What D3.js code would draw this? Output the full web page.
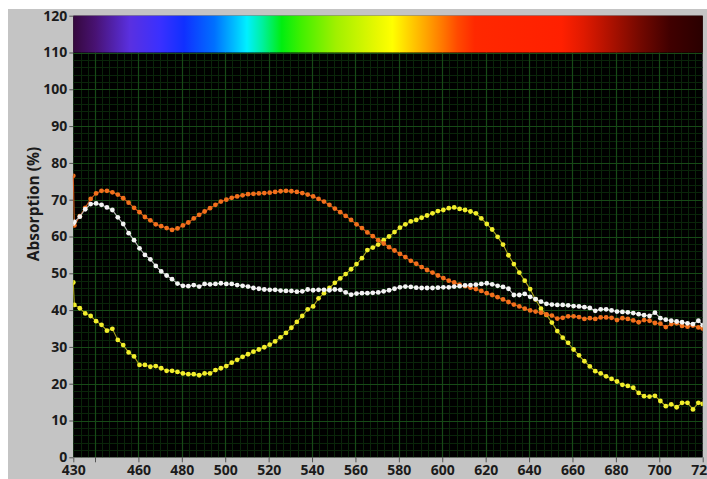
<!DOCTYPE html>
<html>
<head>
<meta charset="utf-8">
<script src="https://cdn.jsdelivr.net/npm/d3@7"></script>
<style>
  html, body { margin: 0; padding: 0; background: #ffffff; }
  svg { display: block; }
  .tick text { font-family: "Open Sans", "DejaVu Sans", sans-serif; font-weight: 700; font-size: 14px; fill: #1b1b1b; }
</style>
</head>
<body>
<svg id="chart" width="707" height="479"></svg>
<script>
// Sampled wavelengths (nm) shared by all three spectra
const wavelengths = [
  430, 430.5, 433, 435.5, 438, 440.5, 443, 445.5, 448, 450.5,
  453, 455.5, 458, 460.5, 463, 465.5, 468, 470.5, 473, 475.5,
  478, 480.5, 483, 485.5, 488, 490.5, 493, 495.5, 498, 500.5,
  503, 505.5, 508, 510.5, 513, 515.5, 518, 520.5, 523, 525.5,
  528, 530.5, 533, 535.5, 538, 540.5, 543, 545.5, 548, 550.5,
  553, 555.5, 558, 560.5, 563, 565.5, 568, 570.5, 573, 575.5,
  578, 580.5, 583, 585.5, 588, 590.5, 593, 595.5, 598, 600.5,
  603, 605.5, 608, 610.5, 613, 615.5, 618, 620.5, 623, 625.5,
  628, 630.5, 633, 635.5, 638, 640.5, 643, 645.5, 648, 650.5,
  653, 655.5, 658, 660.5, 663, 665.5, 668, 670.5, 673, 675.5,
  678, 680.5, 683, 685.5, 688, 690.5, 693, 695.5, 698, 700.5,
  703, 705.5, 708, 710.5, 713, 715.5, 718, 720
];

// Absorption (%) of the orange sample
const orangeSeries = [
  76.5, 63, 65.5, 67.8, 70.2, 71.7, 72.4, 72.4, 72, 71.4,
  70.4, 69.2, 67.8, 66.6, 65.3, 64.4, 63.3, 62.8, 62.3, 61.8,
  62.2, 63, 63.8, 64.9, 65.9, 66.8, 67.7, 68.6, 69.5, 70,
  70.5, 70.9, 71.2, 71.5, 71.6, 71.7, 71.8, 71.9, 72.1, 72.3,
  72.4, 72.3, 72.1, 71.8, 71.4, 70.9, 70.2, 69.5, 68.6, 67.6,
  66.6, 65.6, 64.5, 63.3, 62.3, 61.1, 60.1, 59, 58.1, 57.1,
  56.2, 55.3, 54.4, 53.4, 52.6, 51.7, 50.9, 50.2, 49.4, 48.7,
  48, 47.5, 46.9, 46.5, 46.1, 45.7, 45.2, 44.6, 44.1, 43.5,
  42.9, 42.2, 41.5, 41, 40.4, 39.9, 39.6, 39.3, 38.8, 38.5,
  37.7, 37.9, 38.3, 38.3, 38.1, 37.6, 37.8, 37.6, 38, 38,
  37.9, 37.3, 37.8, 37.6, 37.2, 36.7, 37.3, 37.1, 36.5, 36.3,
  35.4, 36.2, 36.4, 35.7, 35.5, 35.8, 35.3, 35
];

// Absorption (%) of the white sample
const whiteSeries = [
  63.5, 64, 65.4, 67.4, 68.8, 69, 68.6, 67.9, 67.2, 65.2,
  63.4, 60.9, 59, 56.8, 55, 53.8, 52, 50.5, 49.4, 48.4,
  47.2, 46.6, 46.5, 46.8, 46.4, 47.1, 47, 47.1, 47.3, 47.1,
  47.1, 46.8, 46.6, 46.4, 46, 45.8, 45.6, 45.5, 45.5, 45.3,
  45.2, 45.2, 45, 45.1, 45.6, 45.4, 45.5, 45.5, 45.4, 45.6,
  45.5, 44.8, 44.2, 44.5, 44.6, 44.6, 44.7, 44.8, 45.1, 45.4,
  45.8, 46.2, 46.4, 46.3, 46.1, 46, 46, 46, 46.1, 46.2,
  46.2, 46.4, 46.5, 46.7, 46.8, 46.9, 47.1, 47.3, 47, 46.6,
  46.3, 45.8, 44.1, 44.1, 44.4, 43.6, 43, 42.3, 41.7, 41.5,
  41.4, 41.4, 41.3, 41.1, 41, 40.8, 40.6, 39.8, 40.2, 40.2,
  39.9, 39.6, 39.5, 39.4, 39.2, 38.9, 38.6, 38.4, 39.3, 37.8,
  37.4, 37.1, 36.9, 36.7, 36.4, 36.2, 37.1, 35.9
];

// Absorption (%) of the yellow sample
const yellowSeries = [
  47.5, 41.4, 40.5, 39.1, 38.4, 37, 36, 34.4, 34.9, 31.9,
  30.5, 28.5, 27.4, 25.1, 25.1, 24.6, 24.8, 24.2, 23.5, 23.5,
  23.2, 22.8, 22.6, 22.6, 22.3, 22.8, 22.8, 23.7, 24.2, 24.8,
  25.7, 26.5, 27.3, 28, 28.7, 29.3, 29.9, 30.6, 31.5, 32.6,
  33.8, 35.2, 36.8, 38.4, 40.2, 41, 43.2, 44.6, 46, 47.4,
  48.6, 49.8, 51.1, 52.5, 54.1, 56.3, 57, 57.8, 59, 60,
  61.2, 62.4, 63.3, 64.1, 64.5, 65.1, 65.7, 66.3, 66.9, 67.2,
  67.7, 67.9, 67.5, 67.2, 66.8, 66.3, 64.9, 63.4, 61.9, 59.9,
  57.8, 54.9, 52.5, 50.2, 48, 45.7, 42.9, 40.4, 38.7, 36.6,
  34.3, 32.5, 31.1, 29.3, 27.7, 26.1, 24.7, 23.4, 22.8, 22,
  21.3, 20.6, 19.7, 19.4, 18.9, 17.5, 16.6, 16.5, 16.7, 15.3,
  13.9, 14.4, 13.6, 14.8, 14.8, 13, 14.8, 14.5
];

// Axis ticks
const yTicks = [0, 10, 20, 30, 40, 50, 60, 70, 80, 90, 100, 110, 120];
const xTicks = [430, 440, 460, 480, 500, 520, 540, 560, 580, 600, 620, 640, 660, 680, 700, 720];
const xTickLabels = ["430", "", "460", "480", "500", "520", "540", "560", "580", "600", "620", "640", "660", "680", "700", "720"];

// Visible-spectrum colour band along the top of the plot
const spectrumNm = [430, 440, 456, 470, 481, 495, 505, 510, 517, 526, 535, 551, 570, 577, 585, 592, 600, 607, 615, 655, 665, 673, 692, 705, 720];
const spectrumColors = ["#35083d", "#481272", "#5a30e0", "#3a30ff", "#1030ff", "#0070ff", "#00c4ff", "#00f0ff", "#00f0a0", "#00ee10", "#40f000", "#a0f000", "#e8f800", "#ffff00", "#ffd000", "#ffa800", "#ff7800", "#ff4a00", "#ff2800", "#ff2000", "#e01a00", "#c01400", "#700800", "#400000", "#2a0000"];

const svg = d3.select("#chart");
const W = 707, H = 479;
const plotL = 73.3, plotR = 702.7, plotT = 15.7, plotB = 457.3;

const x = d3.scaleLinear().domain([430, 720]).range([plotL, plotR]);
const y = d3.scaleLinear().domain([0, 120]).range([plotB, plotT]);

// Grey panel
svg.append("rect").attr("x", 8).attr("y", 9).attr("width", W - 8).attr("height", H - 9).attr("fill", "#c4c4c4");

// Plot background
svg.append("rect").attr("x", plotL).attr("y", plotT).attr("width", plotR - plotL).attr("height", plotB - plotT).attr("fill", "#000000");

const defs = svg.append("defs");
defs.append("clipPath").attr("id", "plotClip")
  .append("rect").attr("x", plotL).attr("y", plotT).attr("width", plotR - plotL).attr("height", plotB - plotT);

// Grid lines
const grid = svg.append("g").attr("clip-path", "url(#plotClip)");
const minorX = d3.range(430, 720.01, 10 / 3);
const minorY = d3.range(0, 110.01, 2);
grid.selectAll(".mx").data(minorX).join("line")
  .attr("x1", d => Math.round(x(d)) + 0.5).attr("x2", d => Math.round(x(d)) + 0.5)
  .attr("y1", y(110)).attr("y2", plotB)
  .attr("stroke", "#0a250a").attr("stroke-width", 1);
grid.selectAll(".my").data(minorY).join("line")
  .attr("x1", plotL).attr("x2", plotR)
  .attr("y1", d => Math.round(y(d)) + 0.5).attr("y2", d => Math.round(y(d)) + 0.5)
  .attr("stroke", "#0a250a").attr("stroke-width", 1);
const majorX = xTicks.filter(d => d > 430 && d < 720);
grid.selectAll(".gx").data(majorX).join("line")
  .attr("x1", d => Math.round(x(d)) + 0.5).attr("x2", d => Math.round(x(d)) + 0.5)
  .attr("y1", y(110)).attr("y2", plotB)
  .attr("stroke", "#174a17").attr("stroke-width", 1.2);
grid.selectAll(".gy").data(yTicks.filter(d => d > 0 && d <= 110)).join("line")
  .attr("x1", plotL).attr("x2", plotR)
  .attr("y1", d => Math.round(y(d)) + 0.5).attr("y2", d => Math.round(y(d)) + 0.5)
  .attr("stroke", "#174a17").attr("stroke-width", 1.2);

// Spectrum band between 110 and 120 %
const grad = defs.append("linearGradient").attr("id", "spectrum")
  .attr("gradientUnits", "userSpaceOnUse")
  .attr("x1", x(430)).attr("x2", x(720)).attr("y1", 0).attr("y2", 0);
grad.selectAll("stop").data(spectrumNm).join("stop")
  .attr("offset", d => (x(d) - x(430)) / (x(720) - x(430)))
  .attr("stop-color", (d, i) => spectrumColors[i]);
svg.append("rect")
  .attr("x", plotL).attr("y", y(120)).attr("width", plotR - plotL).attr("height", y(110) - y(120))
  .attr("fill", "url(#spectrum)");

// Axes
const yAxis = svg.append("g").attr("transform", `translate(${plotL},0)`)
  .call(d3.axisLeft(y).tickValues(yTicks).tickSize(4).tickPadding(2));
const xAxis = svg.append("g").attr("transform", `translate(0,${plotB})`)
  .call(d3.axisBottom(x).tickValues(xTicks).tickFormat((d, i) => xTickLabels[i]).tickSize(5).tickPadding(3));
[yAxis, xAxis].forEach(g => {
  g.select(".domain").remove();
  g.selectAll(".tick line").attr("stroke", "#555555");
});

// Axis title
svg.append("text")
  .attr("transform", "translate(39,204) rotate(-90)")
  .attr("text-anchor", "middle")
  .style("font-family", "'Open Sans', 'DejaVu Sans', sans-serif")
  .style("font-weight", 700)
  .style("font-size", "15.5px")
  .attr("fill", "#1b1b1b")
  .text("Absorption (%)");

// Spectra: thin connecting line plus a dot on every sample
const series = [
  { values: yellowSeries, line: "#a8a41c", dot: "#f2ee2c" },
  { values: orangeSeries, line: "#c8561a", dot: "#f2701c" },
  { values: whiteSeries, line: "#bdbdbd", dot: "#f4f4f4" }
];
const lineGen = d3.line().x((d, i) => x(wavelengths[i])).y(d => y(d));
series.forEach(s => {
  svg.append("path")
    .attr("d", lineGen(s.values))
    .attr("fill", "none")
    .attr("stroke", s.line)
    .attr("stroke-width", 1.1);
  svg.append("g").attr("clip-path", "url(#plotClip)")
    .selectAll("circle").data(s.values).join("circle")
    .attr("cx", (d, i) => x(wavelengths[i]))
    .attr("cy", d => y(d))
    .attr("r", 2.4)
    .attr("fill", s.dot);
});
</script>
</body>
</html>
